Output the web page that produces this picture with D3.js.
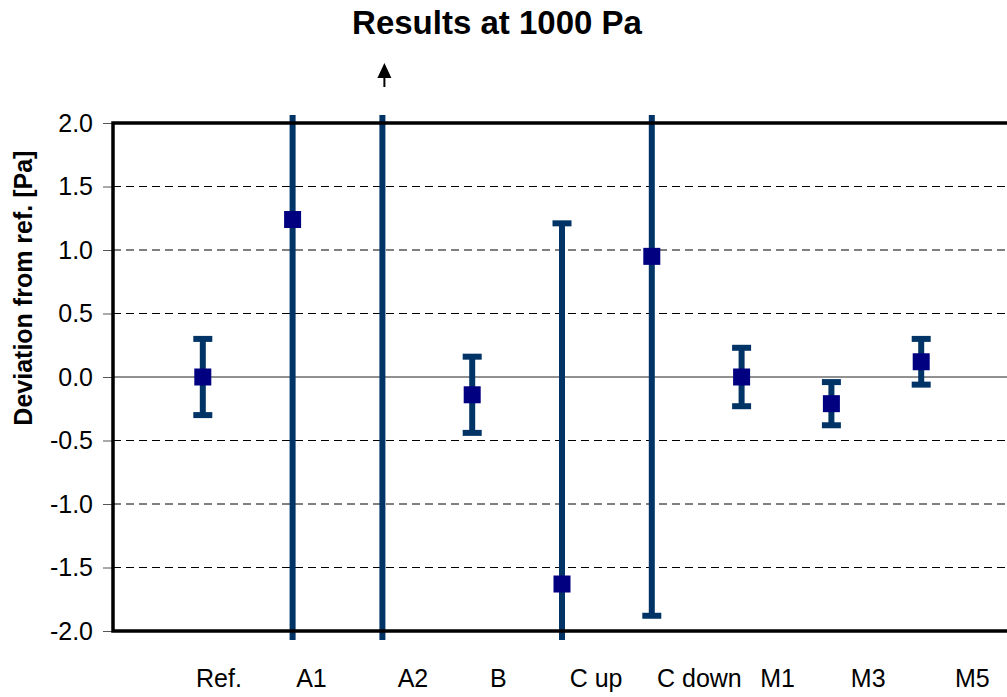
<!DOCTYPE html>
<html><head><meta charset="utf-8">
<script src="https://cdn.jsdelivr.net/npm/d3@7"></script>
<style>body{margin:0;background:#fff;} text{font-family:Arial,"Liberation Sans",sans-serif;}</style>
</head><body>
<svg id="c" width="1007" height="697"></svg>
<script>
const categories = ["Ref.", "A1", "A2", "B", "C up", "C down", "M1", "M3", "M5"];
const xPos = [1, 2, 3, 4, 5, 6, 7, 8, 9];
const values = [0.0, 1.24, 4.5, -0.14, -1.63, 0.95, 0.0, -0.21, 0.12];
const errors = [0.30, 3.6, 7.0, 0.30, 2.84, 2.83, 0.23, 0.17, 0.18];
const labelPos = [1.18, 2.21, 3.34, 4.29, 5.38, 6.53, 7.40, 8.41, 9.57];
const yTicks = [-2.0, -1.5, -1.0, -0.5, 0.0, 0.5, 1.0, 1.5, 2.0];

const svg = d3.select("#c");
const L = 113, T = 123, B = 631, R = 1011;
const x = d3.scaleLinear().domain([0, 10]).range([L, R]);
const y = d3.scaleLinear().domain([-2, 2]).range([B, T]);

// title
svg.append("text").attr("x", 497).attr("y", 34).attr("text-anchor", "middle")
  .attr("font-size", 33).attr("font-weight", "bold").text("Results at 1000 Pa");

// gridlines
svg.append("g").selectAll("line").data(yTicks.filter(d => d !== 0 && Math.abs(d) !== 2)).join("line")
  .attr("x1", L).attr("x2", R).attr("y1", d => y(d)).attr("y2", d => y(d))
  .attr("stroke", "#000").attr("stroke-width", 1).attr("stroke-dasharray", "8,5");
svg.append("line").attr("x1", L).attr("x2", R).attr("y1", y(0)).attr("y2", y(0))
  .attr("stroke", "#222").attr("stroke-width", 1);

// y axis
const yAxis = d3.axisLeft(y).tickValues(yTicks).tickFormat(d3.format(".1f")).tickSize(10).tickPadding(10);
const ga = svg.append("g").attr("transform", `translate(${L},0)`).call(yAxis);
ga.select(".domain").remove();
ga.selectAll(".tick line").attr("stroke", "#555");
ga.selectAll(".tick text").attr("font-size", 25).attr("fill", "#000")
  .attr("font-family", "Arial, 'Liberation Sans', sans-serif")
  .text(d => d3.format(".1f")(d).replace("−", "-"));

svg.append("text").attr("transform", `translate(32,${y(0.7)}) rotate(-90)`).attr("text-anchor", "middle")
  .attr("font-size", 25).attr("font-weight", "bold").text("Deviation from ref. [Pa]");

// clip for error bars
svg.append("defs").append("clipPath").attr("id", "clip").append("rect")
  .attr("x", 0).attr("y", T - 8).attr("width", 1007).attr("height", B - T + 17);

const data = categories.map((c, i) => ({c, x: xPos[i], v: values[i], e: errors[i]}));
const eb = svg.append("g").attr("clip-path", "url(#clip)");
const col = "#003366";
eb.selectAll("line.v").data(data).join("line").attr("class", "v")
  .attr("x1", d => x(d.x)).attr("x2", d => x(d.x))
  .attr("y1", d => y(d.v + d.e)).attr("y2", d => y(d.v - d.e))
  .attr("stroke", col).attr("stroke-width", 6);
const caps = data.flatMap(d => [d.v + d.e, d.v - d.e].map(v => ({x: d.x, v})));
eb.selectAll("line.cap").data(caps.filter(d => d.v <= 2 && d.v >= -2)).join("line").attr("class", "cap")
  .attr("x1", d => x(d.x) - 9.5).attr("x2", d => x(d.x) + 9.5)
  .attr("y1", d => y(d.v)).attr("y2", d => y(d.v))
  .attr("stroke", col).attr("stroke-width", 6);

// plot border
svg.append("path").attr("d", `M${R},${T}H${L}V${B}H${R}`).attr("fill", "none")
  .attr("stroke", "#000").attr("stroke-width", 3.5);

// markers
svg.append("g").selectAll("rect").data(data.filter(d => d.v <= 2 && d.v >= -2)).join("rect")
  .attr("x", d => x(d.x) - 8.5).attr("y", d => y(d.v) - 8.5).attr("width", 17).attr("height", 17)
  .attr("fill", "#000080");

// off-scale arrow
data.filter(d => d.v > 2).forEach(d => {
  const cx = x(d.x) + 2;
  svg.append("line").attr("x1", cx).attr("x2", cx).attr("y1", 76).attr("y2", 87)
    .attr("stroke", "#000").attr("stroke-width", 2);
  svg.append("path").attr("d", `M${cx},63L${cx - 7},78L${cx + 7},78Z`).attr("fill", "#000");
});

// category labels
svg.append("g").selectAll("text").data(categories).join("text")
  .attr("x", (d, i) => x(labelPos[i])).attr("y", 687).attr("text-anchor", "middle")
  .attr("font-size", 25).text(d => d);
</script>
</body></html>
